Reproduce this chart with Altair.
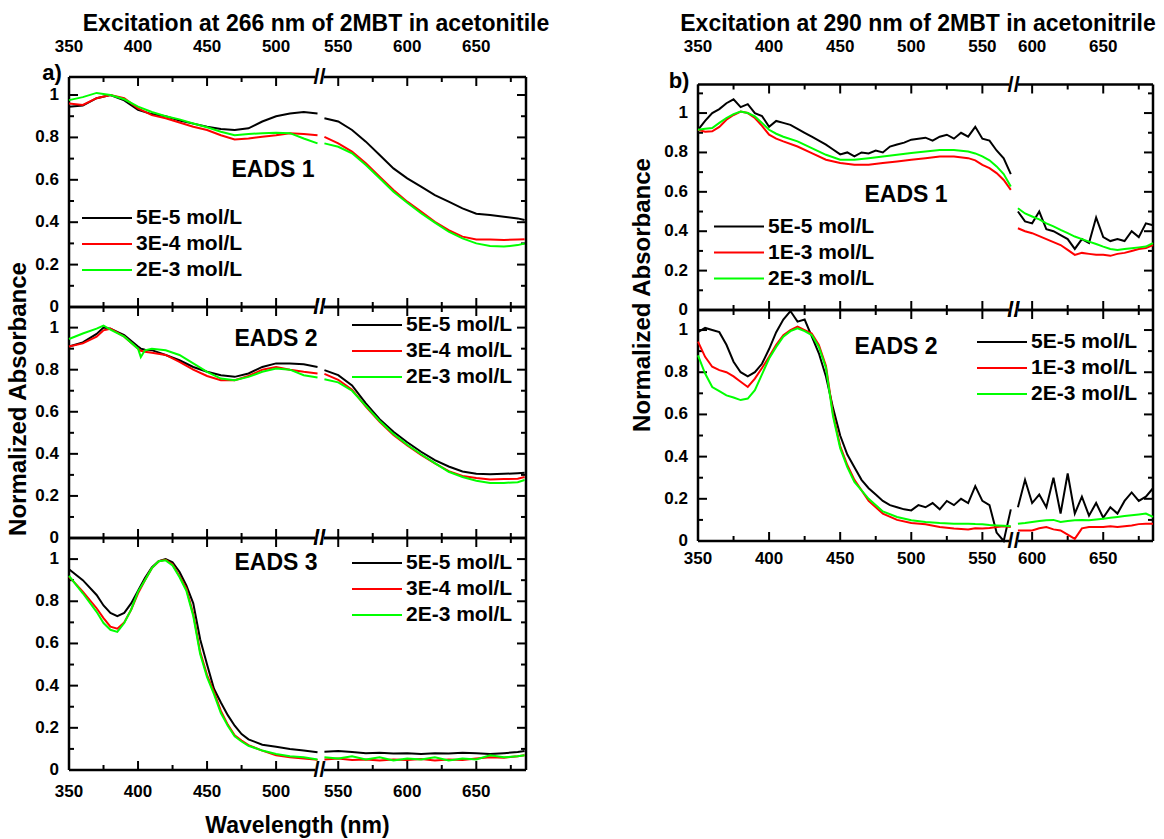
import altair as alt
import pandas as pd

FONT = "Liberation Sans"
COLORS = ["#000000", "#ff0000", "#00ff00"]

TITLE_266 = "Excitation at 266 nm of 2MBT in acetonitile"
TITLE_290 = "Excitation at 290 nm of 2MBT in acetonitrile"
LABELS_266 = ["5E-5 mol/L", "3E-4 mol/L", "2E-3 mol/L"]
LABELS_290 = ["5E-5 mol/L", "1E-3 mol/L", "2E-3 mol/L"]
EADS_NAMES = ["EADS 1", "EADS 2", "EADS 3"]
Y_TITLE = "Normalized Absorbance"
X_TITLE = "Wavelength (nm)"

Y_MAJOR = [0, 0.2, 0.4, 0.6, 0.8, 1.0]
Y_MINOR = [0.1, 0.3, 0.5, 0.7, 0.9, 1.1]

# x ticks (real wavelengths)
X266_MAJOR = [350, 400, 450, 500, 550, 600, 650]
X266_MINOR = [375, 425, 475, 575, 625, 675]
X290_MAJOR = [350, 400, 450, 500, 550, 600, 650]
X290_MINOR = [375, 425, 475, 525, 625, 675]

# ---------------- 266 nm, EADS 1 ----------------
A_WL_L = [350, 360, 370, 380, 390, 400, 410, 420, 430, 440, 450, 460, 470, 480, 490, 500, 510, 520, 530]
A_WL_R = [540, 550, 560, 570, 580, 590, 600, 610, 620, 630, 640, 650, 660, 670, 680, 685]
A_K_L = [0.945, 0.95, 0.985, 1.0, 0.975, 0.93, 0.91, 0.90, 0.88, 0.865, 0.85, 0.84, 0.835, 0.843, 0.875, 0.90, 0.913, 0.92, 0.913]
A_K_R = [0.89, 0.875, 0.835, 0.78, 0.717, 0.654, 0.607, 0.568, 0.528, 0.497, 0.465, 0.44, 0.434, 0.426, 0.418, 0.41]
A_R_L = [0.96, 0.953, 0.985, 1.0, 0.985, 0.937, 0.905, 0.89, 0.87, 0.85, 0.835, 0.81, 0.79, 0.795, 0.803, 0.81, 0.82, 0.816, 0.81]
A_R_R = [0.803, 0.772, 0.733, 0.678, 0.615, 0.552, 0.497, 0.45, 0.402, 0.363, 0.332, 0.319, 0.319, 0.316, 0.319, 0.32]
A_G_L = [0.976, 0.99, 1.01, 1.0, 0.98, 0.945, 0.92, 0.90, 0.885, 0.866, 0.848, 0.827, 0.81, 0.816, 0.82, 0.822, 0.82, 0.795, 0.772]
A_G_R = [0.772, 0.756, 0.725, 0.67, 0.607, 0.544, 0.492, 0.442, 0.398, 0.355, 0.324, 0.30, 0.288, 0.285, 0.292, 0.30]

# ---------------- 266 nm, EADS 2 ----------------
B_WL_L = [350, 360, 370, 375, 380, 390, 400, 402, 405, 410, 420, 430, 440, 450, 460, 470, 480, 490, 500, 510, 520, 530]
B_WL_R = [540, 550, 560, 570, 580, 590, 600, 610, 620, 630, 640, 650, 660, 670, 680, 685]
B_K_L = [0.91, 0.93, 0.97, 1.0, 0.995, 0.965, 0.91, 0.90, 0.895, 0.893, 0.87, 0.845, 0.813, 0.79, 0.774, 0.766, 0.782, 0.813, 0.83, 0.83, 0.826, 0.813]
B_K_R = [0.798, 0.774, 0.725, 0.64, 0.565, 0.505, 0.455, 0.41, 0.37, 0.34, 0.316, 0.305, 0.303, 0.305, 0.308, 0.31]
B_R_L = [0.91, 0.925, 0.957, 0.987, 0.995, 0.957, 0.90, 0.89, 0.885, 0.88, 0.87, 0.837, 0.80, 0.77, 0.75, 0.75, 0.77, 0.80, 0.813, 0.80, 0.79, 0.782]
B_R_R = [0.78, 0.752, 0.705, 0.625, 0.552, 0.49, 0.44, 0.395, 0.355, 0.318, 0.295, 0.285, 0.278, 0.28, 0.282, 0.29]
B_G_L = [0.946, 0.972, 0.995, 1.01, 0.99, 0.957, 0.90, 0.86, 0.892, 0.90, 0.892, 0.87, 0.83, 0.79, 0.758, 0.75, 0.766, 0.79, 0.806, 0.80, 0.774, 0.763]
B_G_R = [0.755, 0.74, 0.70, 0.628, 0.556, 0.494, 0.443, 0.398, 0.356, 0.315, 0.29, 0.272, 0.262, 0.262, 0.265, 0.276]

# ---------------- 266 nm, EADS 3 ----------------
C_WL_L = [350, 360, 370, 375, 380, 385, 390, 395, 400, 405, 410, 415, 420, 425, 430, 435, 440, 445, 450, 455,
          460, 465, 470, 475, 480, 490, 500, 510, 520, 530]
C_WL_R = [540, 550, 560, 570, 580, 590, 600, 610, 620, 630, 640, 650, 660, 670, 680, 685]
C_K_L = [0.952, 0.90, 0.83, 0.78, 0.745, 0.73, 0.745, 0.79, 0.85, 0.91, 0.96, 0.99, 1.0, 0.985, 0.94, 0.875, 0.79, 0.62, 0.50, 0.385,
         0.32, 0.26, 0.21, 0.17, 0.145, 0.12, 0.11, 0.10, 0.092, 0.084]
C_K_R = [0.086, 0.09, 0.085, 0.08, 0.082, 0.078, 0.08, 0.076, 0.08, 0.078, 0.082, 0.08, 0.076, 0.08, 0.085, 0.09]
C_R_L = [0.917, 0.846, 0.767, 0.72, 0.68, 0.67, 0.70, 0.76, 0.838, 0.90, 0.957, 0.99, 0.997, 0.975, 0.92, 0.86, 0.74, 0.56, 0.45, 0.37,
         0.28, 0.215, 0.165, 0.14, 0.118, 0.092, 0.07, 0.06, 0.055, 0.048]
C_R_R = [0.05, 0.055, 0.048, 0.05, 0.045, 0.05, 0.048, 0.052, 0.045, 0.05, 0.048, 0.055, 0.06, 0.058, 0.065, 0.07]
C_G_L = [0.92, 0.838, 0.75, 0.697, 0.665, 0.655, 0.697, 0.76, 0.846, 0.90, 0.957, 0.99, 0.994, 0.97, 0.915, 0.85, 0.73, 0.55, 0.44, 0.36,
         0.27, 0.21, 0.16, 0.135, 0.115, 0.092, 0.076, 0.065, 0.06, 0.05]
C_G_R = [0.06, 0.055, 0.065, 0.05, 0.06, 0.045, 0.055, 0.05, 0.06, 0.045, 0.055, 0.05, 0.07, 0.06, 0.065, 0.07]

# ---------------- 290 nm, EADS 1 ----------------
D_K_WL_L = [350, 355, 360, 365, 370, 375, 380, 385, 390, 395, 400, 405, 410, 415, 420, 425, 430, 435, 440, 445,
            450, 455, 460, 465, 470, 475, 480, 485, 490, 495, 500, 505, 510, 515, 520, 525, 530, 535, 540, 545,
            550, 555, 560, 565, 570]
D_K_L = [0.915, 0.96, 1.0, 1.02, 1.05, 1.07, 1.03, 1.045, 1.0, 0.985, 0.93, 0.96, 0.95, 0.94, 0.92, 0.90, 0.88, 0.86, 0.84, 0.815,
         0.79, 0.80, 0.78, 0.80, 0.795, 0.81, 0.80, 0.83, 0.84, 0.85, 0.865, 0.87, 0.875, 0.86, 0.88, 0.89, 0.87, 0.90, 0.88, 0.93,
         0.87, 0.86, 0.81, 0.77, 0.69]
D_WL_L = [350, 355, 360, 365, 370, 375, 380, 385, 390, 395, 400, 405, 410, 420, 430, 440, 450, 460, 470, 480,
          490, 500, 510, 520, 530, 540, 545, 550, 555, 560, 565, 570]
D_WL_R = [590, 595, 600, 605, 610, 615, 620, 625, 630, 635, 640, 645, 650, 655, 660, 665, 670, 675, 680, 685]
D_K_R = [0.50, 0.45, 0.44, 0.50, 0.41, 0.40, 0.38, 0.36, 0.31, 0.36, 0.34, 0.47, 0.37, 0.35, 0.36, 0.35, 0.40, 0.37, 0.44, 0.43]
D_R_L = [0.915, 0.905, 0.907, 0.93, 0.966, 0.99, 1.008, 1.0, 0.975, 0.935, 0.89, 0.87, 0.856, 0.83, 0.797, 0.763, 0.746, 0.737, 0.737, 0.746,
         0.754, 0.763, 0.771, 0.78, 0.78, 0.771, 0.76, 0.737, 0.72, 0.695, 0.66, 0.61]
D_R_R = [0.415, 0.40, 0.39, 0.375, 0.36, 0.345, 0.33, 0.305, 0.28, 0.29, 0.285, 0.28, 0.28, 0.275, 0.285, 0.29, 0.30, 0.31, 0.315, 0.33]
D_G_L = [0.915, 0.92, 0.924, 0.95, 0.975, 0.995, 1.008, 1.0, 0.983, 0.95, 0.915, 0.895, 0.88, 0.856, 0.822, 0.788, 0.763, 0.763, 0.771, 0.78,
         0.788, 0.797, 0.805, 0.813, 0.813, 0.805, 0.795, 0.78, 0.76, 0.729, 0.69, 0.627]
D_G_R = [0.517, 0.49, 0.475, 0.46, 0.44, 0.425, 0.407, 0.39, 0.373, 0.36, 0.347, 0.335, 0.322, 0.31, 0.305, 0.31, 0.314, 0.318, 0.322, 0.34]

# ---------------- 290 nm, EADS 2 ----------------
E_K_WL_L = [350, 355, 360, 365, 370, 375, 380, 385, 390, 395, 400, 405, 410, 415, 420, 425, 430, 435, 440, 445,
            450, 455, 460, 465, 470, 475, 480, 485, 490, 495, 500, 505, 510, 515, 520, 525, 530, 535, 540, 545,
            550, 555, 560, 565, 570]
E_K_L = [0.99, 1.01, 1.0, 0.99, 0.93, 0.85, 0.80, 0.78, 0.80, 0.84, 0.91, 0.99, 1.05, 1.09, 1.04, 1.05, 0.97, 0.89, 0.78, 0.63,
         0.50, 0.41, 0.35, 0.29, 0.25, 0.22, 0.19, 0.17, 0.16, 0.15, 0.145, 0.17, 0.16, 0.18, 0.15, 0.19, 0.17, 0.20, 0.18, 0.26,
         0.19, 0.17, 0.04, 0.0, 0.15]
E_WL_L = [350, 355, 360, 365, 370, 375, 380, 385, 390, 395, 400, 405, 410, 415, 420, 425, 430, 435, 440, 445,
          450, 455, 460, 470, 480, 490, 500, 510, 520, 530, 540, 545, 550, 555, 560, 565, 570]
E_WL_R = [590, 595, 600, 605, 610, 615, 620, 625, 630, 635, 640, 645, 650, 655, 660, 665, 670, 675, 680, 685]
E_K_R = [0.16, 0.29, 0.18, 0.22, 0.16, 0.30, 0.13, 0.32, 0.13, 0.21, 0.12, 0.18, 0.11, 0.16, 0.13, 0.19, 0.23, 0.19, 0.21, 0.25]
E_R_L = [0.945, 0.873, 0.826, 0.81, 0.80, 0.78, 0.755, 0.73, 0.77, 0.82, 0.873, 0.93, 0.976, 1.0, 1.016, 1.0, 0.984, 0.93, 0.83, 0.60,
         0.45, 0.36, 0.29, 0.19, 0.13, 0.10, 0.085, 0.079, 0.066, 0.059, 0.054, 0.06, 0.059, 0.062, 0.066, 0.07, 0.066]
E_R_R = [0.05, 0.05, 0.05, 0.06, 0.066, 0.055, 0.05, 0.03, 0.01, 0.06, 0.066, 0.066, 0.066, 0.07, 0.066, 0.07, 0.074, 0.08, 0.082, 0.082]
E_G_L = [0.88, 0.794, 0.73, 0.71, 0.69, 0.68, 0.668, 0.675, 0.715, 0.79, 0.865, 0.92, 0.968, 0.995, 1.008, 0.995, 0.976, 0.92, 0.82, 0.59,
         0.44, 0.35, 0.28, 0.20, 0.14, 0.114, 0.098, 0.09, 0.085, 0.082, 0.082, 0.08, 0.079, 0.076, 0.074, 0.072, 0.07]
E_G_R = [0.082, 0.085, 0.09, 0.095, 0.098, 0.10, 0.09, 0.095, 0.098, 0.10, 0.098, 0.102, 0.106, 0.11, 0.114, 0.118, 0.122, 0.126, 0.13, 0.114]


def to_xp(w, cut, split):
    return w - cut if w > split else w


def build_df(series, labels, cut):
    """series: list of (wl_left, values_left, wl_right, values_right), one per label."""
    rows = []
    for lab, (wl_l, vl, wl_r, vr) in zip(labels, series):
        for w, v in zip(wl_l, vl):
            rows.append({"series": lab, "seg": lab + " L", "wl": w, "xp": w, "v": v})
        for w, v in zip(wl_r, vr):
            rows.append({"series": lab, "seg": lab + " R", "wl": w, "xp": w - cut, "v": v})
    return pd.DataFrame(rows)


def txt(df, size, **enc):
    return alt.Chart(df).mark_text(font=FONT, fontSize=size, fontWeight="bold", color="black",
                                   align=enc.pop("align", "center"), baseline="middle",
                                   angle=enc.pop("angle", 0)).encode(**enc)


ONE = pd.DataFrame({"k": [0]})


def panel(df, labels, W, H, ymax, xmax, cut, split, brk, x_major, x_minor, top_off=0,
          xlab_y=None, legend_xy=(0, 0), eads="", eads_xy=(0, 0),
          ytitle=None, ytitle_xy=(0, 0), xtitle=None, xtitle_y=0,
          corner=None, corner_xy=(0, 0), title=None, title_xy=(0, 0)):
    ydom = ymax * H / (H - top_off)
    xs = alt.Scale(domain=[350, xmax], nice=False, zero=False)
    ys = alt.Scale(domain=[0, ydom], nice=False, zero=False)
    X = alt.X("xp:Q", scale=xs, axis=None)
    Y = alt.Y("v:Q", scale=ys, axis=None)
    xmaj = [to_xp(w, cut, split) for w in x_major]
    xmin = [to_xp(w, cut, split) for w in x_minor]

    lines = alt.Chart(df).mark_line(strokeWidth=2).encode(
        x=X, y=Y,
        color=alt.Color("series:N", scale=alt.Scale(domain=labels, range=COLORS),
                        legend=alt.Legend(orient="none", legendX=legend_xy[0], legendY=legend_xy[1],
                                          title=None, symbolType="stroke", symbolSize=2500,
                                          symbolStrokeWidth=2, labelFont=FONT, labelFontSize=21,
                                          labelFontWeight="bold", labelColor="black", clipHeight=22,
                                          rowPadding=4, labelOffset=3, padding=0)),
        detail="seg:N",
    )

    TM, Tm = 9, 5
    t0 = top_off
    xmaj_df = pd.DataFrame({"xp": xmaj, "lab": [str(w) for w in x_major]})
    xmin_df = pd.DataFrame({"xp": xmin})
    ymaj_df = pd.DataFrame({"v": Y_MAJOR, "lab": [f"{v:g}" for v in Y_MAJOR]})
    ymin_df = pd.DataFrame({"v": [m for m in Y_MINOR if m < ymax - 0.01]})

    def xr(d, y0, y1):
        return alt.Chart(d).mark_rule(color="black", strokeWidth=2).encode(
            x=X, y=alt.value(y0), y2=alt.value(y1))

    def yr(d, x0, x1):
        return alt.Chart(d).mark_rule(color="black", strokeWidth=2).encode(
            y=Y, x=alt.value(x0), x2=alt.value(x1))

    frame = alt.Chart(ONE).mark_rule(color="black", strokeWidth=2.5)
    layers = [
        frame.encode(x=alt.value(0), x2=alt.value(W), y=alt.value(t0)),
        frame.encode(x=alt.value(0), x2=alt.value(W), y=alt.value(H)),
        frame.encode(x=alt.value(0), y=alt.value(t0), y2=alt.value(H)),
        frame.encode(x=alt.value(W), y=alt.value(t0), y2=alt.value(H)),
        xr(xmaj_df, H - TM, H), xr(xmin_df, H - Tm, H), xr(xmaj_df, t0, t0 + TM), xr(xmin_df, t0, t0 + Tm),
        yr(ymaj_df, 0, TM), yr(ymin_df, 0, Tm), yr(ymaj_df, W - TM, W), yr(ymin_df, W - Tm, W),
        lines,
    ]

    bdf = pd.DataFrame({"xp": [brk], "s": ["//"]})
    for yy in (t0, H):
        layers.append(alt.Chart(bdf).mark_point(shape="square", filled=True, color="white", opacity=1,
                                                size=70, strokeWidth=0).encode(x=X, y=alt.value(yy)))
    for yy in (t0, H):
        layers.append(txt(bdf, 22, x=X, y=alt.value(yy), text="s:N"))

    # tick labels
    layers.append(txt(ymaj_df, 17, y=Y, x=alt.value(-10), text="lab:N", align="right"))
    if xlab_y is not None:
        layers.append(txt(xmaj_df, 17, x=X, y=alt.value(xlab_y), text="lab:N"))

    layers.append(txt(pd.DataFrame({"t": [eads]}), 23, text="t:N",
                      x=alt.value(eads_xy[0]), y=alt.value(eads_xy[1])))
    if corner:
        layers.append(txt(pd.DataFrame({"t": [corner]}), 22, text="t:N",
                          x=alt.value(corner_xy[0]), y=alt.value(corner_xy[1])))
    if title:
        layers.append(txt(pd.DataFrame({"t": [title]}), 23, text="t:N",
                          x=alt.value(title_xy[0]), y=alt.value(title_xy[1])))
    if ytitle:
        layers.append(txt(pd.DataFrame({"t": [ytitle]}), 24, text="t:N", angle=270,
                          x=alt.value(ytitle_xy[0]), y=alt.value(ytitle_xy[1])))
    if xtitle:
        layers.append(txt(pd.DataFrame({"t": [xtitle]}), 23, text="t:N",
                          x=alt.value(W / 2), y=alt.value(xtitle_y)))

    return alt.layer(*layers).properties(width=W, height=H)


# ---------------- build panels ----------------
dfA = build_df([(A_WL_L, A_K_L, A_WL_R, A_K_R), (A_WL_L, A_R_L, A_WL_R, A_R_R),
                (A_WL_L, A_G_L, A_WL_R, A_G_R)], LABELS_266, 5)
dfB = build_df([(B_WL_L, B_K_L, B_WL_R, B_K_R), (B_WL_L, B_R_L, B_WL_R, B_R_R),
                (B_WL_L, B_G_L, B_WL_R, B_G_R)], LABELS_266, 5)
dfC = build_df([(C_WL_L, C_K_L, C_WL_R, C_K_R), (C_WL_L, C_R_L, C_WL_R, C_R_R),
                (C_WL_L, C_G_L, C_WL_R, C_G_R)], LABELS_266, 5)
dfD = build_df([(D_K_WL_L, D_K_L, D_WL_R, D_K_R), (D_WL_L, D_R_L, D_WL_R, D_R_R),
                (D_WL_L, D_G_L, D_WL_R, D_G_R)], LABELS_290, 15)
dfE = build_df([(E_K_WL_L, E_K_L, E_WL_R, E_K_R), (E_WL_L, E_R_L, E_WL_R, E_R_R),
                (E_WL_L, E_G_L, E_WL_R, E_G_R)], LABELS_290, 15)

LW = 457
common266 = dict(labels=LABELS_266, W=LW, xmax=681, cut=5, split=533, brk=531.5,
                 x_major=X266_MAJOR, x_minor=X266_MINOR)
pA = panel(dfA, H=230, ymax=1.085, xlab_y=-30, legend_xy=(12, 130),
           eads=EADS_NAMES[0], eads_xy=(204, 93), corner="a)", corner_xy=(-17, -4),
           title=TITLE_266, title_xy=(247, -53), **common266)
pB = panel(dfB, H=231, ymax=1.098, legend_xy=(282, 7), eads=EADS_NAMES[1], eads_xy=(207, 32),
           ytitle=Y_TITLE, ytitle_xy=(-50, 92), **common266)
pC = panel(dfC, H=232, ymax=1.10, xlab_y=232 + 22, legend_xy=(282, 14),
           eads=EADS_NAMES[2], eads_xy=(207, 25), xtitle=X_TITLE, xtitle_y=232 + 56, **common266)

RW = 455
common290 = dict(labels=LABELS_290, W=RW, xmax=670, cut=15, split=572, brk=572,
                 x_major=X290_MAJOR, x_minor=X290_MINOR)
pD = panel(dfD, H=233, top_off=7.5, ymax=1.145, xlab_y=-30, legend_xy=(15, 138.5),
           eads=EADS_NAMES[0], eads_xy=(208, 117.5), ytitle=Y_TITLE, ytitle_xy=(-55, 218),
           corner="b)", corner_xy=(-19, 4), title=TITLE_290, title_xy=(220, -53), **common290)
pE = panel(dfE, H=231, ymax=1.095, xlab_y=231 + 18, legend_xy=(278, 21),
           eads=EADS_NAMES[1], eads_xy=(198, 37), **common290)

left = alt.vconcat(pA, pB, pC, spacing=0, bounds="flush").resolve_scale(color="independent")
right = alt.vconcat(pD, pE, spacing=0, bounds="flush").resolve_scale(color="independent")

chart = alt.hconcat(left, right, spacing=80, bounds="full").resolve_scale(
    color="independent"
).configure_view(strokeWidth=0).properties(
    padding={"left": 6, "top": 13, "right": 5, "bottom": 0}
)

chart.save("out.html", embed_options={"renderer": "svg", "actions": False})
